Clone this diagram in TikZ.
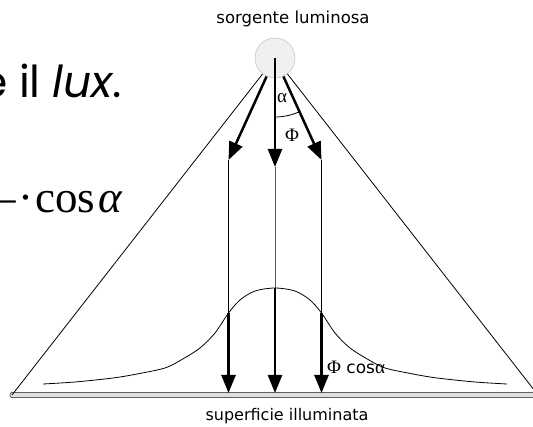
\documentclass[tikz,border=0pt]{standalone}
\usepackage{fontspec}
\usetikzlibrary{arrows.meta}
\newfontfamily\tahoma{DejaVu Sans}
\newfontfamily\timesf{Liberation Serif}
\newfontfamily\gothic{Poppins}
\begin{document}
\begin{tikzpicture}[x=1pt, y=-1pt, every node/.style={font=\tahoma\fontsize{16}{18}\selectfont, inner sep=0pt},
  flux/.style={line width=2.5pt, -{Triangle[length=18pt,width=14pt]}},
  ray/.style={line width=0.8pt},
  greek/.style={font=\timesf\fontsize{19}{21}\selectfont}]
\useasboundingbox (0,0) rectangle (533,427);
\clip (0,0) rectangle (533,427);
\node[anchor=base east,font=\gothic\fontsize{44}{50}\selectfont] (lux) at (122,98) {è il \textit{lux}.};
\node[anchor=base east,font=\timesf\fontsize{45}{50}\selectfont] (cosa) at (123,213) {–\kern2pt·\kern2pt cos\kern3pt\textit{α}};
\node[anchor=base,font=\tahoma\fontsize{16.5}{18}\selectfont] (top) at (293,24) {sorgente luminosa};
\node[anchor=base] (bot) at (287,421) {superficie illuminata};
\draw[fill=gray!25,draw=gray!75!black,line width=0.9pt,rounded corners=1.5pt] (10,392.5) rectangle (545,397.5);
\node[circle,minimum size=40pt,fill=gray!12,draw=gray!45,line width=0.6pt] (src) at (275,58) {};
\coordinate (gl) at (12,395);
\coordinate (gr) at (538,395);
\coordinate (tl) at (228.5,160);
\coordinate (tc) at (275,167);
\coordinate (tr) at (321.5,160);
\coordinate (pl) at (228.5,313);
\coordinate (pc) at (275,288);
\coordinate (pr) at (321.5,313);
\coordinate (el) at (228.5,393);
\coordinate (ec) at (275,393);
\coordinate (er) at (321.5,393);
\draw[ray] (src) -- (gl);
\draw[ray] (src) -- (gr);
\draw[flux] (src) -- (tl);
\draw[flux] (src.center) -- (tc);
\draw[flux] (src) -- (tr);
\draw[ray] (tl) -- (pl);
\draw[ray,black!65] (tc) -- (pc);
\draw[ray] (tr) -- (pr);
\draw[flux] (pl) -- (el);
\draw[flux] (pc) -- (ec);
\draw[flux] (pr) -- (er);
\draw[ray] (src.center) ++(90:59) arc[start angle=90, end angle=66, radius=59];
\draw[ray] plot[smooth] coordinates {(43,384) (75,382) (113,378) (137,374) (165,368) (181,360) (200,348) (215,333) (228.5,313) (240,300) (255,291) (275,288) (295,291) (310,300) (321.5,313) (335,333) (350,348) (369,360) (385,368) (413,374) (437,378) (475,382) (507,384)};
\node[greek] (alpha) at (282,98) {α};
\node[greek] (phi) at (292,135) {Φ};
\node[anchor=west,font=\tahoma\fontsize{17}{19}\selectfont] (phicos) at (327,367) {{\timesf\fontsize{19}{21}\selectfont Φ} cos{\timesf\fontsize{19}{21}\selectfont α}};
\end{tikzpicture}
\end{document}
